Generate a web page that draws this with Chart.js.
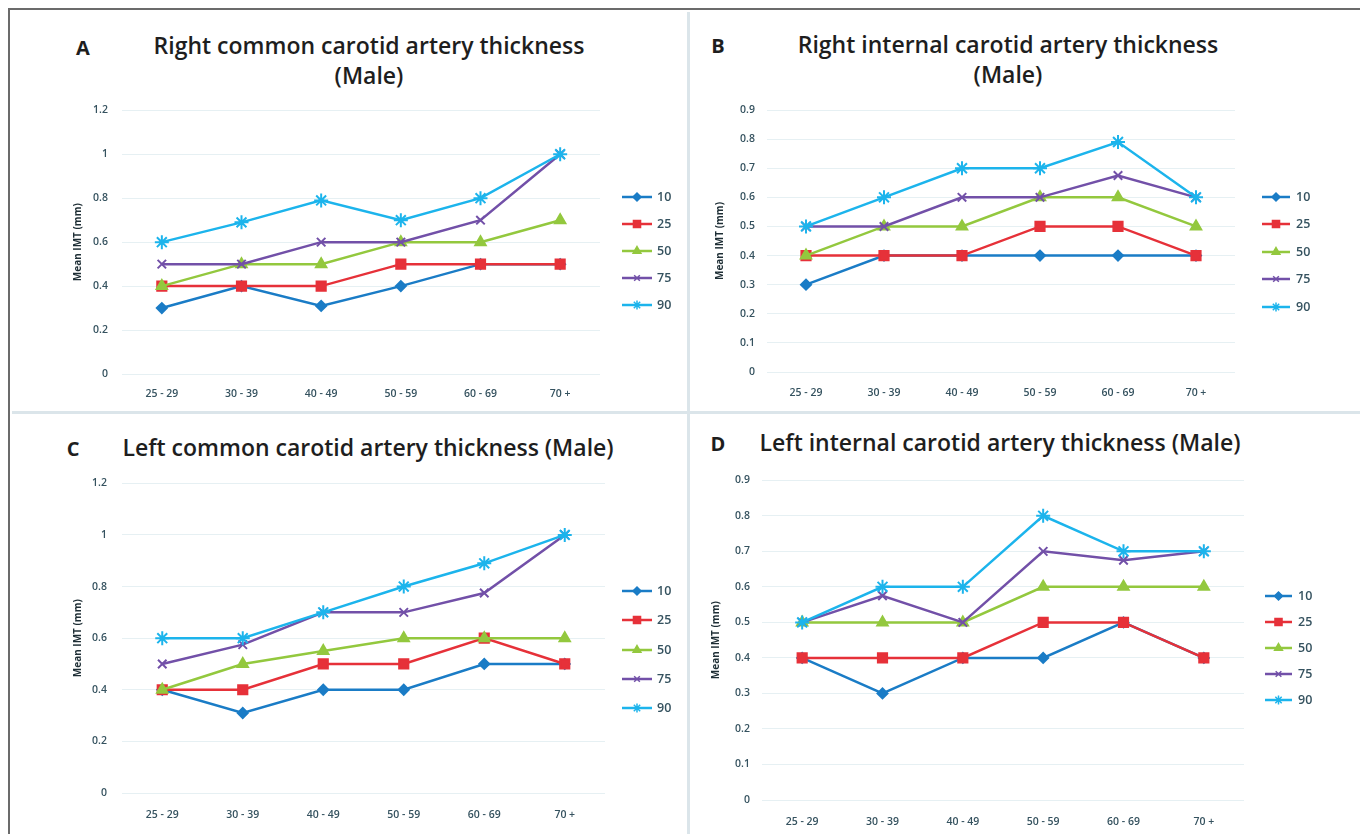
<!DOCTYPE html>
<html><head><meta charset="utf-8">
<script src="https://cdn.jsdelivr.net/npm/chart.js@4.4.1/dist/chart.umd.min.js"></script>
<style>
html,body{margin:0;padding:0;background:#fff;width:1360px;height:834px;overflow:hidden;font-family:"Open Sans",sans-serif}
body{position:relative}
.frameT{position:absolute;left:8px;top:8px;width:1352px;height:2px;background:#6b6b6b}
.frameL{position:absolute;left:8px;top:8px;width:2px;height:826px;background:#6b6b6b}
.sepV{position:absolute;left:687px;top:12px;width:3px;height:822px;background:#dbe5ea}
.sepH{position:absolute;left:12px;top:411px;width:1348px;height:3px;background:#dbe5ea}
.title{position:absolute;color:#1e1e1e;font-weight:600;font-size:23px;text-align:center;line-height:30px;white-space:nowrap;transform:translate(-50%,-50%)}
.letter{position:absolute;font-weight:700;font-size:20px;color:#1e1e1e;transform:translate(-50%,-50%)}
canvas{position:absolute}
</style>
</head>
<body>
<div class="frameT"></div><div class="frameL"></div>
<div class="sepV"></div><div class="sepH"></div>

<div class="letter" style="left:83px;top:47px">A</div>
<div class="title" style="left:369px;top:60px">Right common carotid artery thickness<br>(Male)</div>
<div class="letter" style="left:718px;top:45px">B</div>
<div class="title" style="left:1008px;top:59px">Right internal carotid artery thickness<br>(Male)</div>
<div class="letter" style="left:73px;top:448px">C</div>
<div class="title" style="left:368px;top:447px">Left common carotid artery thickness (Male)</div>
<div class="letter" style="left:718px;top:443px">D</div>
<div class="title" style="left:1000px;top:442px">Left internal carotid artery thickness (Male)</div>

<canvas id="cA"></canvas>
<canvas id="cB"></canvas>
<canvas id="cC"></canvas>
<canvas id="cD"></canvas>

<script>
// ---- data ----
const categories = ['25 - 29', '30 - 39', '40 - 49', '50 - 59', '60 - 69', '70 +'];
const percentiles = ['10', '25', '50', '75', '90'];

// A: Right common carotid artery (Male)
const rightCommonP10 = [0.30, 0.40, 0.31, 0.40, 0.50, 0.50];
const rightCommonP25 = [0.40, 0.40, 0.40, 0.50, 0.50, 0.50];
const rightCommonP50 = [0.40, 0.50, 0.50, 0.60, 0.60, 0.70];
const rightCommonP75 = [0.50, 0.50, 0.60, 0.60, 0.70, 1.00];
const rightCommonP90 = [0.60, 0.69, 0.79, 0.70, 0.80, 1.00];

// B: Right internal carotid artery (Male)
const rightInternalP10 = [0.30, 0.40, 0.40, 0.40, 0.40, 0.40];
const rightInternalP25 = [0.40, 0.40, 0.40, 0.50, 0.50, 0.40];
const rightInternalP50 = [0.40, 0.50, 0.50, 0.60, 0.60, 0.50];
const rightInternalP75 = [0.50, 0.50, 0.60, 0.60, 0.675, 0.60];
const rightInternalP90 = [0.50, 0.60, 0.70, 0.70, 0.79, 0.60];

// C: Left common carotid artery (Male)
const leftCommonP10 = [0.40, 0.31, 0.40, 0.40, 0.50, 0.50];
const leftCommonP25 = [0.40, 0.40, 0.50, 0.50, 0.60, 0.50];
const leftCommonP50 = [0.40, 0.50, 0.55, 0.60, 0.60, 0.60];
const leftCommonP75 = [0.50, 0.575, 0.70, 0.70, 0.775, 1.00];
const leftCommonP90 = [0.60, 0.60, 0.70, 0.80, 0.89, 1.00];

// D: Left internal carotid artery (Male)
const leftInternalP10 = [0.40, 0.30, 0.40, 0.40, 0.50, 0.40];
const leftInternalP25 = [0.40, 0.40, 0.40, 0.50, 0.50, 0.40];
const leftInternalP50 = [0.50, 0.50, 0.50, 0.60, 0.60, 0.60];
const leftInternalP75 = [0.50, 0.575, 0.50, 0.70, 0.675, 0.70];
const leftInternalP90 = [0.50, 0.60, 0.60, 0.80, 0.70, 0.70];

const yTitle = 'Mean IMT (mm)';

// ---- styles ----
const seriesStyle = [
  {color: '#1a7cc6', point: 'rectRot', radius: 5, legendRadius: 4},
  {color: '#e63139', point: 'rect', radius: 6.5, legendRadius: 5},
  {color: '#93c83e', point: 'triangle', radius: 6, legendRadius: 4.5},
  {color: '#7250a8', point: 'crossRot', radius: 6, legendRadius: 4},
  {color: '#1cb4ec', point: 'star', radius: 7, legendRadius: 4.5}
];
const tickColor = '#35525f';

const sideLegend = {
  id: 'sideLegend',
  afterDraw(chart, args, o) {
    const ctx = chart.ctx;
    chart.data.datasets.forEach((ds, i) => {
      const st = seriesStyle[i];
      const y = o.ys[i] - o.oy;
      const x1 = o.x1 - o.ox, x2 = o.x2 - o.ox;
      ctx.save();
      ctx.strokeStyle = st.color; ctx.lineWidth = 2.5;
      ctx.beginPath(); ctx.moveTo(x1, y); ctx.lineTo(x2, y); ctx.stroke();
      ctx.fillStyle = st.color; ctx.strokeStyle = st.color; ctx.lineWidth = 1.5;
      Chart.helpers.drawPoint(ctx, {pointStyle: st.point, radius: st.legendRadius, borderWidth: 1.5, rotation: 0}, (x1 + x2) / 2, y);
      ctx.fillStyle = tickColor;
      ctx.font = '600 12.5px "Open Sans"';
      ctx.textBaseline = 'middle'; ctx.textAlign = 'left';
      ctx.fillText(ds.label, o.tx - o.ox, y);
      ctx.restore();
    });
  }
};

function makePanel(id, series, yMax, yStep, g) {
  const cv = document.getElementById(id);
  const [bl, bt, br, bb] = g.box;
  const [pl, pt, pr, pb] = g.plot;
  cv.style.left = bl + 'px'; cv.style.top = bt + 'px';
  cv.width = br - bl; cv.height = bb - bt;
  cv.style.width = (br - bl) + 'px'; cv.style.height = (bb - bt) + 'px';
  const datasets = series.map((vals, i) => {
    const st = seriesStyle[i];
    return {
      label: percentiles[i], data: vals,
      order: series.length - i,
      borderColor: st.color, backgroundColor: st.color,
      pointBackgroundColor: st.color, pointBorderColor: st.color,
      pointStyle: st.point, pointRadius: st.radius, pointBorderWidth: 2,
      borderWidth: 2.5, tension: 0, fill: false
    };
  });
  new Chart(cv, {
    type: 'line',
    data: {labels: categories, datasets},
    options: {
      responsive: false, animation: false, maintainAspectRatio: false,
      devicePixelRatio: 1,
      layout: {padding: {left: 0, top: pt - bt, right: br - pr, bottom: 0}},
      plugins: {
        legend: {display: false}, tooltip: {enabled: false}, title: {display: false},
        sideLegend: {ox: bl, oy: bt, x1: g.legend.x1, x2: g.legend.x2, tx: g.legend.tx, ys: g.legend.ys}
      },
      scales: {
        x: {
          offset: true,
          grid: {display: false, drawTicks: false},
          border: {display: false},
          ticks: {color: tickColor, font: {family: '"Open Sans"', size: 10.5, weight: '600'}, padding: g.xLabelY - pb - 6, maxRotation: 0, autoSkip: false},
          afterFit(s) { s.height = bb - pb; }
        },
        y: {
          min: 0, max: yMax,
          grid: {color: '#e6f0f3', lineWidth: 1, drawTicks: false},
          border: {display: false},
          ticks: {stepSize: yStep, color: tickColor, font: {family: '"Open Sans"', size: 10.5, weight: '600'}, padding: pl - g.yLabelRight,
                  callback: v => String(Number(Number(v).toFixed(2)))},
          title: {display: true, text: yTitle, color: '#1e2e35', font: {family: '"Open Sans"', size: 10, weight: '700'}, padding: {top: g.yTitleX - bl - 6, bottom: 0}},
          afterFit(s) { s.width = pl - bl; }
        }
      }
    },
    plugins: [sideLegend]
  });
}

makePanel('cA', [rightCommonP10, rightCommonP25, rightCommonP50, rightCommonP75, rightCommonP90], 1.2, 0.2,
  {box: [12, 90, 684, 410], plot: [122, 108, 600, 374], yTitleX: 78, yLabelRight: 108, xLabelY: 394,
   legend: {x1: 622, x2: 652, tx: 657, ys: [197, 224, 251, 278, 305]}});
makePanel('cB', [rightInternalP10, rightInternalP25, rightInternalP50, rightInternalP75, rightInternalP90], 0.9, 0.1,
  {box: [692, 90, 1358, 410], plot: [767, 110, 1235, 372], yTitleX: 720, yLabelRight: 755, xLabelY: 393,
   legend: {x1: 1262, x2: 1290, tx: 1296, ys: [197, 224, 252, 279, 307]}});
makePanel('cC', [leftCommonP10, leftCommonP25, leftCommonP50, leftCommonP75, leftCommonP90], 1.2, 0.2,
  {box: [12, 462, 684, 834], plot: [122, 483, 605, 793], yTitleX: 78, yLabelRight: 107, xLabelY: 815,
   legend: {x1: 622, x2: 652, tx: 657, ys: [591, 620, 650, 679, 708]}});
makePanel('cD', [leftInternalP10, leftInternalP25, leftInternalP50, leftInternalP75, leftInternalP90], 0.9, 0.1,
  {box: [692, 462, 1358, 834], plot: [762, 476, 1244, 800], yTitleX: 716, yLabelRight: 750, xLabelY: 822,
   legend: {x1: 1265, x2: 1292, tx: 1298, ys: [596, 622, 648, 674, 700]}});
</script>
</body></html>
